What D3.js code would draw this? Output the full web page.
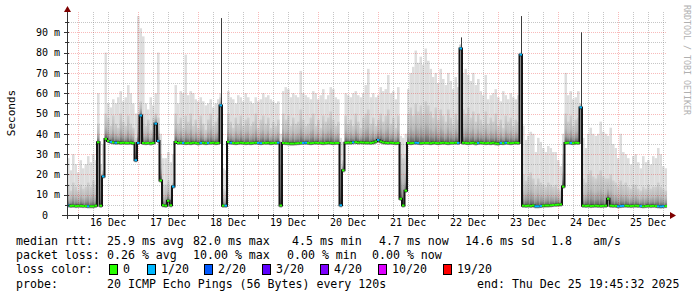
<!DOCTYPE html>
<html lang="en">
<head>
<meta charset="utf-8">
<title>Smokeping: median rtt, last 10 days</title>
<script src="https://cdn.jsdelivr.net/npm/d3@7"></script>
<style>
	body { margin: 0; background: #fff; }
	svg text { font-family: "DejaVu Sans Mono", monospace; fill: #000; white-space: pre; }
</style>
</head>
<body>
<script>

// one value per hour, from the graph start to its end (240 hours)
var startTime = Date.UTC(2025, 11, 15, 19, 45, 32);
var endTime = Date.UTC(2025, 11, 25, 19, 45, 32);

// median rtt (ms)
var median = [
	4.7, 4.5, 4.6, 4.4, 4.5, 4.5, 4.4, 4.4, 4.3, 4.3, 4.3, 4.6, 35.8, 4.6, 19, 37.5, 36.5, 36, 35.8, 35.6, 35.7, 35.5, 35.6, 35.5,
	35.5, 35.6, 35.4, 27, 35.5, 49, 35.5, 35.4, 35.5, 35.3, 35.5, 45, 36.5, 17, 4.8, 4.6, 7, 4.8, 14, 36, 35.5, 35.6, 35.5, 35.4,
	35.5, 35.4, 35.6, 35.5, 35.3, 35.5, 35.6, 35.4, 35.5, 35.5, 35.6, 35.4, 35.5, 54, 4.6, 4.6, 36, 35.6, 35.5, 35.4, 35.5, 35.6, 35.5, 35.4,
	35.5, 35.4, 35.5, 35.6, 35.5, 35.4, 35.5, 35.5, 35.6, 35.4, 35.5, 35.5, 35.6, 4.7, 35.5, 35.4, 35.3, 35.2, 35.2, 35.3, 35.4, 35.5, 35.5, 35.6,
	35.5, 35.4, 35.5, 35.6, 35.5, 35.5, 35.4, 35.5, 35.6, 35.5, 35.4, 35.5, 35.5, 4.8, 22, 35.6, 35.7, 35.6, 35.8, 35.9, 35.7, 35.8, 35.7, 35.6,
	35.6, 35.5, 35.7, 36.2, 37, 36.2, 35.8, 35.6, 35.5, 35.6, 35.5, 35.4, 35.5, 8, 4.7, 12, 35.5, 35.4, 35.5, 35.6, 35.5, 35.4, 35.5, 35.5,
	35.5, 35.4, 35.6, 35.5, 35.4, 35.5, 35.6, 35.5, 35.4, 35.5, 35.5, 35.6, 35.5, 82, 35.6, 35.5, 35.4, 35.5, 35.6, 35.3, 35.5, 35.6, 35.5, 35.4,
	35.5, 35.4, 35.6, 35.3, 35.2, 35.5, 35.4, 35.6, 35.5, 35.4, 35.5, 35.6, 35.5, 79, 4.6, 4.5, 4.6, 4.5, 4.7, 4.3, 4.3, 4.4, 4.6, 4.7,
	4.7, 4.8, 4.9, 5.0, 5.1, 5.2, 14, 35.5, 35.6, 35.5, 35.4, 35.6, 35.5, 53, 4.6, 4.5, 4.6, 4.4, 4.5, 4.6, 4.5, 4.4, 4.5, 4.6,
	8, 4.6, 4.5, 4.5, 4.3, 4.4, 4.5, 4.6, 4.5, 4.4, 4.5, 4.6, 4.5, 4.4, 4.3, 4.4, 4.5, 4.4, 4.5, 4.4, 4.3, 4.2, 4.3, 4.4
];

// highest ping of the hour (ms), top of the light smoke
var smokeTop = [
	28, 22, 30, 25, 21, 27, 23, 25, 29, 26, 30, 27, 60, 25, 35, 80, 55, 53, 57, 55, 58, 61, 56, 58,
	64, 60, 55, 50, 98, 92, 88, 55, 52, 58, 54, 60, 80, 40, 28, 28, 31, 26, 30, 64, 55, 61, 60, 79,
	59, 61, 60, 57, 56, 58, 56, 54, 55, 57, 53, 55, 57, 60, 23, 22, 61, 58, 57, 55, 59, 58, 56, 60,
	58, 56, 55, 58, 56, 57, 60, 58, 59, 57, 56, 55, 56, 40, 61, 63, 62, 58, 60, 59, 58, 71, 60, 59,
	58, 57, 61, 60, 57, 59, 62, 57, 59, 63, 62, 58, 57, 38, 36, 60, 59, 58, 60, 61, 59, 58, 60, 64,
	72, 58, 60, 58, 59, 63, 61, 62, 69, 60, 61, 57, 63, 39, 38, 40, 62, 70, 73, 81, 75, 78, 74, 82,
	76, 72, 68, 70, 65, 72, 67, 64, 70, 66, 62, 68, 63, 84, 70, 72, 69, 66, 70, 64, 67, 61, 59, 69,
	57, 59, 60, 62, 58, 56, 61, 59, 57, 60, 58, 57, 59, 80, 44, 37, 39, 41, 40, 31, 38, 36, 33, 31,
	34, 33, 31, 31, 27, 24, 40, 70, 59, 61, 57, 58, 61, 55, 38, 33, 40, 43, 40, 39, 40, 46, 41, 40,
	39, 43, 35, 33, 28, 40, 31, 30, 28, 25, 29, 30, 26, 23, 29, 26, 27, 25, 29, 28, 33, 30, 24, 23
];

// upper edge of the dense smoke (ms)
var smokeMid = [
	15, 12, 16, 14, 12, 15, 13, 14, 16, 14, 17, 15, 45, 12, 22, 50, 48, 44, 49, 45, 43, 50, 46, 44,
	49, 45, 43, 38, 50, 56, 50, 44, 47, 42, 48, 50, 48, 30, 15, 15, 17, 14, 16, 50, 45, 48, 43, 49,
	46, 50, 44, 47, 43, 49, 45, 42, 47, 50, 44, 46, 48, 58, 13, 12, 50, 46, 43, 48, 45, 49, 44, 47,
	48, 44, 46, 50, 43, 47, 49, 45, 48, 43, 46, 44, 47, 25, 50, 47, 49, 44, 48, 45, 46, 52, 47, 44,
	45, 48, 50, 44, 47, 43, 49, 46, 48, 51, 47, 44, 46, 25, 27, 49, 45, 47, 44, 50, 46, 43, 48, 50,
	52, 45, 48, 44, 47, 50, 46, 49, 52, 45, 48, 43, 49, 30, 28, 30, 50, 53, 49, 55, 51, 54, 50, 56,
	54, 51, 48, 53, 47, 52, 49, 46, 52, 48, 45, 50, 47, 84, 52, 50, 53, 48, 51, 46, 50, 47, 45, 51,
	45, 48, 46, 50, 44, 47, 43, 49, 46, 48, 44, 47, 46, 80, 20, 17, 19, 21, 18, 15, 18, 16, 15, 14,
	16, 15, 14, 15, 13, 12, 30, 50, 46, 49, 44, 47, 48, 55, 18, 16, 20, 22, 19, 18, 20, 22, 19, 18,
	18, 20, 17, 16, 14, 17, 15, 16, 14, 13, 15, 15, 13, 12, 14, 13, 15, 13, 14, 14, 16, 14, 13, 12
];

// hours that lost 1 of 20 pings (all others lost none)
var lossHours = [0, 8, 14, 17, 19, 27, 28, 29, 35, 36, 42, 46, 53, 56, 61, 63, 65, 76, 77, 84, 94, 95,
	109, 114, 124, 139, 140, 156, 157, 164, 173, 175, 181, 187, 188, 189, 201, 205, 220, 221, 222, 229, 236, 237, 238];

// single very slow pings
var peakHours = [61, 157, 181, 205];
var peakValues = [97, 87.5, 98, 90];

var yTicks = [0, 10, 20, 30, 40, 50, 60, 70, 80, 90];
var lossNames = ["0", "1/20", "2/20", "3/20", "4/20", "10/20", "19/20"];
var lossColors = ["#26ff00", "#00b8ff", "#0059ff", "#5e00ff", "#7e00ff", "#dd00ff", "#ff0000"];

var w = 697;
var h = 297;

var svg = d3.select("body")
	.append("svg")
	.attr("width", w)
	.attr("height", h);

var x = d3.scaleUtc()
	.domain([new Date(startTime), new Date(endTime)])
	.range([67, 667]);

var y = d3.scaleLinear()
	.domain([0, 100])
	.range([215, 12]);

var steps = median.map(function(d, i){
	return {
		t0: new Date(startTime + i * 3600e3),
		t1: new Date(startTime + (i + 1) * 3600e3),
		med: d,
		top: smokeTop[i],
		mid: smokeMid[i],
		loss: lossHours.indexOf(i) >= 0 ? 1 : 0
	};
});

// gradient for the dense part of the smoke
var grad = svg.append("defs").append("linearGradient")
	.attr("id", "smoke")
	.attr("x1", 0).attr("y1", 0).attr("x2", 0).attr("y2", 1);
grad.append("stop").attr("offset", "0%").attr("stop-color", "#cfcfcf");
grad.append("stop").attr("offset", "50%").attr("stop-color", "#bababa");
grad.append("stop").attr("offset", "78%").attr("stop-color", "#969696");
grad.append("stop").attr("offset", "93%").attr("stop-color", "#6a6a6a");
grad.append("stop").attr("offset", "100%").attr("stop-color", "#4c4c4c");

// light smoke
svg.append("g").selectAll("rect")
	.data(steps)
	.enter()
	.append("rect")
	.attr("x", function(d){ return x(d.t0); })
	.attr("width", function(d){ return x(d.t1) - x(d.t0) + 0.05; })
	.attr("y", function(d){ return y(d.top); })
	.attr("height", function(d){ return Math.max(0, y(d.med) - y(d.top)); })
	.attr("fill", "#dddddd");

// dense smoke
svg.append("g").selectAll("rect")
	.data(steps)
	.enter()
	.append("rect")
	.attr("x", function(d){ return x(d.t0); })
	.attr("width", function(d){ return x(d.t1) - x(d.t0) + 0.05; })
	.attr("y", function(d){ return y(d.mid); })
	.attr("height", function(d){ return Math.max(0, y(d.med) - y(d.mid)); })
	.attr("fill", "url(#smoke)");

// pings just below the median
svg.append("g").selectAll("rect")
	.data(steps)
	.enter()
	.append("rect")
	.attr("x", function(d){ return x(d.t0); })
	.attr("width", function(d){ return x(d.t1) - x(d.t0) + 0.05; })
	.attr("y", function(d){ return y(d.med); })
	.attr("height", 2)
	.attr("fill", "#888");

// grid
var minorT = x.ticks(d3.utcHour.every(6));
var majorT = x.ticks(d3.utcDay.every(1));
var grid = svg.append("g")
	.attr("stroke-width", 1)
	.attr("stroke-dasharray", "1,1");

grid.selectAll("line.vmin")
	.data(minorT.filter(function(t){ return t.getUTCHours() !== 0; }))
	.enter()
	.append("line")
	.attr("x1", function(d){ return Math.round(x(d)) + 0.5; })
	.attr("x2", function(d){ return Math.round(x(d)) + 0.5; })
	.attr("y1", 215).attr("y2", 12)
	.attr("stroke", "rgba(120,120,120,0.42)");

grid.selectAll("line.hmin")
	.data(d3.range(5, 100, 10))
	.enter()
	.append("line")
	.attr("x1", 67).attr("x2", 667)
	.attr("y1", function(d){ return Math.round(y(d)) + 0.5; })
	.attr("y2", function(d){ return Math.round(y(d)) + 0.5; })
	.attr("stroke", "rgba(120,120,120,0.42)");

grid.selectAll("line.vmaj")
	.data(majorT)
	.enter()
	.append("line")
	.attr("x1", function(d){ return Math.round(x(d)) + 0.5; })
	.attr("x2", function(d){ return Math.round(x(d)) + 0.5; })
	.attr("y1", 215).attr("y2", 12)
	.attr("stroke", "rgba(229,0,0,0.27)");

grid.selectAll("line.hmaj")
	.data(yTicks.slice(1))
	.enter()
	.append("line")
	.attr("x1", 67).attr("x2", 667)
	.attr("y1", function(d){ return Math.round(y(d)) + 0.5; })
	.attr("y2", function(d){ return Math.round(y(d)) + 0.5; })
	.attr("stroke", "rgba(229,0,0,0.27)");

// single slow pings
svg.append("g").selectAll("line")
	.data(peakHours)
	.enter()
	.append("line")
	.attr("x1", function(d){ return Math.round(x(steps[d].t0) + 1) + 0.5; })
	.attr("x2", function(d){ return Math.round(x(steps[d].t0) + 1) + 0.5; })
	.attr("y1", function(d){ return y(steps[d].med); })
	.attr("y2", function(d, i){ return y(peakValues[i]); })
	.attr("stroke", "#3a3a3a")
	.attr("stroke-width", 1);

// median line: dark steps, then coloured by loss
var pts = steps.map(function(d){ return [d.t0, d.med]; });
pts.push([steps[steps.length - 1].t1, steps[steps.length - 1].med]);
svg.append("path")
	.datum(pts)
	.attr("fill", "none")
	.attr("stroke", "#151515")
	.attr("stroke-width", 2)
	.attr("d", d3.line()
		.x(function(d){ return x(d[0]); })
		.y(function(d){ return y(d[1]); })
		.curve(d3.curveStepAfter));

svg.append("g").selectAll("line")
	.data(steps)
	.enter()
	.append("line")
	.attr("x1", function(d){ return x(d.t0); })
	.attr("x2", function(d){ return x(d.t1); })
	.attr("y1", function(d){ return y(d.med); })
	.attr("y2", function(d){ return y(d.med); })
	.attr("stroke", function(d){ return lossColors[d.loss]; })
	.attr("stroke-width", 2);

// axes
var axes = svg.append("g").attr("stroke", "#333").attr("stroke-width", 1);
axes.append("line").attr("x1", 62).attr("x2", 670).attr("y1", 215.5).attr("y2", 215.5);
axes.append("line").attr("x1", 67.5).attr("x2", 67.5).attr("y1", 219).attr("y2", 11);
axes.selectAll("line.xt")
	.data(minorT)
	.enter()
	.append("line")
	.attr("x1", function(d){ return Math.round(x(d)) + 0.5; })
	.attr("x2", function(d){ return Math.round(x(d)) + 0.5; })
	.attr("y1", 214).attr("y2", function(d){ return d.getUTCHours() === 0 ? 219 : 217; });
axes.selectAll("line.yt")
	.data(d3.range(5, 100, 5))
	.enter()
	.append("line")
	.attr("x1", function(d){ return d % 10 === 0 ? 64 : 65; })
	.attr("x2", 69)
	.attr("y1", function(d){ return Math.round(y(d)) + 0.5; })
	.attr("y2", function(d){ return Math.round(y(d)) + 0.5; });

svg.append("path").attr("d", "M64,12L71,12L67.5,6Z").attr("fill", "#7f0000");
svg.append("path").attr("d", "M670,212L670,219L676,215.5Z").attr("fill", "#7f0000");

// tick labels
var yAxis = svg.append("g")
	.attr("transform", "translate(67,0)")
	.call(d3.axisLeft(y)
		.tickValues(yTicks)
		.tickSize(0)
		.tickPadding(7)
		.tickFormat(function(d){ return d === 0 ? "0  " : d + " m"; }));
yAxis.select(".domain").remove();
yAxis.selectAll("text")
	.attr("font-family", "DejaVu Sans Mono")
	.attr("font-size", "10px")
	.attr("fill", "#000");

var noons = majorT.map(function(t){ return new Date(t.getTime() + 12 * 3600e3); });
var xAxis = svg.append("g")
	.attr("transform", "translate(0,215)")
	.call(d3.axisBottom(x)
		.tickValues(noons)
		.tickSize(0)
		.tickPadding(4)
		.tickFormat(d3.utcFormat("%d %b")));
xAxis.select(".domain").remove();
xAxis.selectAll("text")
	.attr("font-family", "DejaVu Sans Mono")
	.attr("font-size", "10px")
	.attr("fill", "#000");

svg.append("text")
	.attr("transform", "translate(15,113) rotate(-90)")
	.attr("text-anchor", "middle")
	.attr("font-size", "11px")
	.text("Seconds");

svg.append("text")
	.attr("transform", "translate(684,5) rotate(90)")
	.attr("font-size", "8.3px")
	.style("fill", "#b0b0b0")
	.text("RRDTOOL / TOBI OETIKER");

// legend
var legend = svg.append("g").attr("font-size", "11.6px");
function put(px, py, s){
	legend.append("text").attr("x", px).attr("y", py).text(s);
}
put(16, 245, "median rtt:");
put(107, 245, "25.9 ms avg");
put(193, 245, "82.0 ms max");
put(292, 245, "4.5 ms min");
put(379, 245, "4.7 ms now");
put(465, 245, "14.6 ms sd");
put(551, 245, "1.8");
put(593, 245, "am/s");

put(16, 259, "packet loss:");
put(107, 259, "0.26 % avg");
put(193, 259, "10.00 % max");
put(287, 259, "0.00 % min");
put(372, 259, "0.00 % now");

put(16, 273, "loss color:");
var boxX = [109, 147, 204, 262, 320, 378, 443];
lossNames.forEach(function(n, i){
	legend.append("rect")
		.attr("x", boxX[i] + 0.5).attr("y", 264.5)
		.attr("width", 8).attr("height", 10)
		.attr("fill", lossColors[i])
		.attr("stroke", "#000");
	put(boxX[i] + 14, 273, n);
});

put(16, 288, "probe:");
put(107, 288, "20 ICMP Echo Pings (56 Bytes) every 120s");
put(477, 288, "end: Thu Dec 25 19:45:32 2025");

</script>
</body>
</html>
